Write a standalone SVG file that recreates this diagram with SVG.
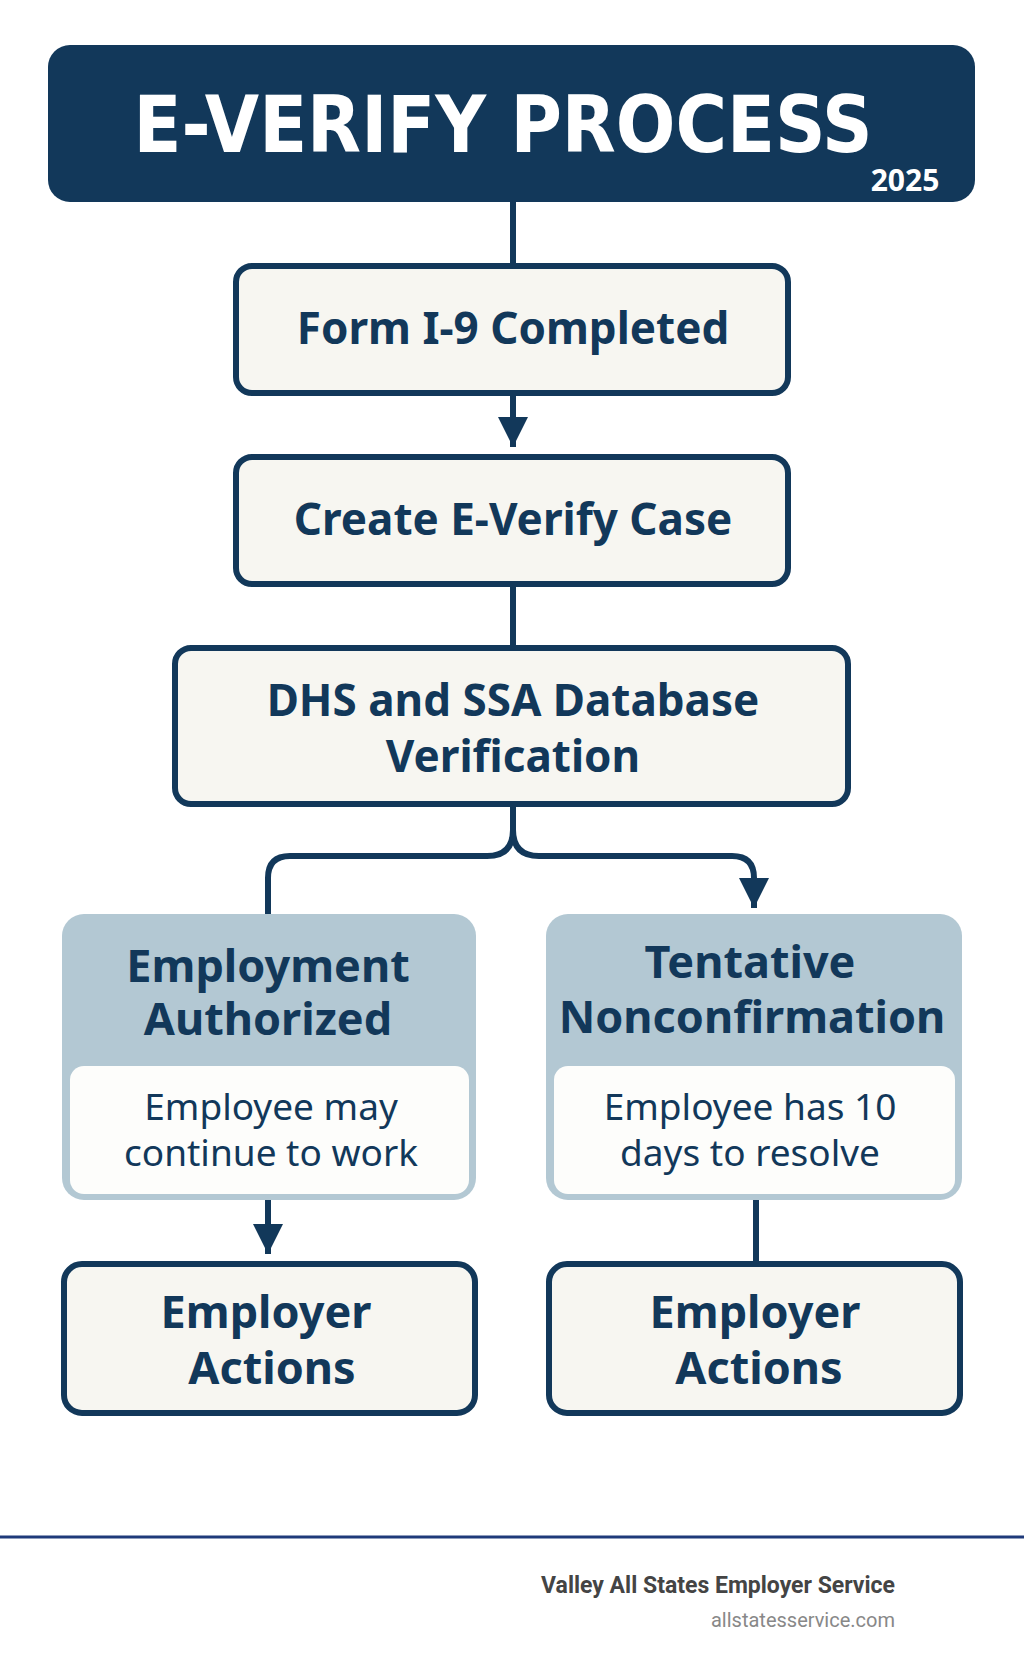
<svg xmlns="http://www.w3.org/2000/svg" width="1024" height="1666" viewBox="0 0 1024 1666">
<style>
.box{fill:#f7f6f1;stroke:#12385a;stroke-width:6}
.t{font-family:"Noto Sans","Liberation Sans",sans-serif;font-weight:bold;fill:#12385a;text-anchor:middle}
.s{font-family:"Noto Sans","Liberation Sans",sans-serif;fill:#12385a;text-anchor:middle;font-size:37px}
.c{fill:none;stroke:#12385a;stroke-width:6}
</style>
<defs><marker id="a" viewBox="0 0 10 10" refX="10" refY="5" markerWidth="5" markerHeight="5" orient="auto"><path d="M0,0 L10,5 L0,10 Z" fill="#12385a"/></marker></defs>
<rect width="1024" height="1666" fill="#ffffff"/>
<g id="connectors">
<path class="c" d="M513,200 V266"/>
<path class="c" d="M513,393 V447" marker-end="url(#a)"/>
<path class="c" d="M513,584 V648"/>
<path class="c" d="M513,804 V830 Q513,856 487,856 H290 Q268,856 268,878 V914"/>
<path class="c" d="M513,830 Q513,856 539,856 H732 Q754,856 754,878 V908" marker-end="url(#a)"/>
<path class="c" d="M268,1200 V1254" marker-end="url(#a)"/>
<path class="c" d="M756,1200 V1264"/>
</g>
<g id="header">
<rect x="48" y="45" width="927" height="157" rx="22" fill="#12385a"/>
<text x="503" y="152" font-family="'DejaVu Sans Condensed','DejaVu Sans',sans-serif" font-weight="bold" font-size="78" fill="#fff" text-anchor="middle">E-VERIFY PROCESS</text>
<text x="905" y="191" font-family="'Noto Sans',sans-serif" font-weight="bold" font-size="30" fill="#fff" text-anchor="middle">2025</text>
</g>
<g id="n1"><rect class="box" x="236" y="266" width="552" height="127" rx="16"/><text class="t" x="513" y="344" font-size="44">Form I-9 Completed</text></g>
<g id="n2"><rect class="box" x="236" y="457" width="552" height="127" rx="16"/><text class="t" x="513" y="535" font-size="44">Create E-Verify Case</text></g>
<g id="n3"><rect class="box" x="175" y="648" width="673" height="156" rx="16"/><text class="t" x="513" y="716" font-size="44">DHS and SSA Database</text><text class="t" x="513" y="772" font-size="44">Verification</text></g>
<g id="n4">
<rect x="62" y="914" width="414" height="286" rx="22" fill="#b3c8d3"/>
<rect x="70" y="1066" width="399" height="128" rx="14" fill="#fdfdfb"/>
<text class="t" x="268" y="982" font-size="45">Employment</text><text class="t" x="268" y="1035" font-size="45">Authorized</text>
<text class="s" x="271" y="1120">Employee may</text><text class="s" x="271" y="1166">continue to work</text>
</g>
<g id="n5">
<rect x="546" y="914" width="416" height="286" rx="22" fill="#b3c8d3"/>
<rect x="554" y="1066" width="401" height="128" rx="14" fill="#fdfdfb"/>
<text class="t" x="750" y="978" font-size="45">Tentative</text><text class="t" x="752" y="1033" font-size="45">Nonconfirmation</text>
<text class="s" x="750" y="1120">Employee has 10</text><text class="s" x="750" y="1166">days to resolve</text>
</g>
<g id="n6"><rect class="box" x="64" y="1264" width="411" height="149" rx="18"/><text class="t" x="266" y="1328" font-size="45">Employer</text><text class="t" x="272" y="1384" font-size="45">Actions</text></g>
<g id="n7"><rect class="box" x="549" y="1264" width="411" height="149" rx="18"/><text class="t" x="755" y="1328" font-size="45">Employer</text><text class="t" x="759" y="1384" font-size="45">Actions</text></g>
<g id="footer">
<line x1="0" y1="1537" x2="1024" y2="1537" stroke="#1f3a7a" stroke-width="3"/>
<text x="895" y="1593" font-family="'Roboto','Liberation Sans',sans-serif" font-weight="bold" font-size="23" fill="#444" text-anchor="end">Valley All States Employer Service</text>
<text x="895" y="1627" font-family="'Roboto','Liberation Sans',sans-serif" font-size="20" fill="#888" text-anchor="end">allstatesservice.com</text>
</g>
</svg>
